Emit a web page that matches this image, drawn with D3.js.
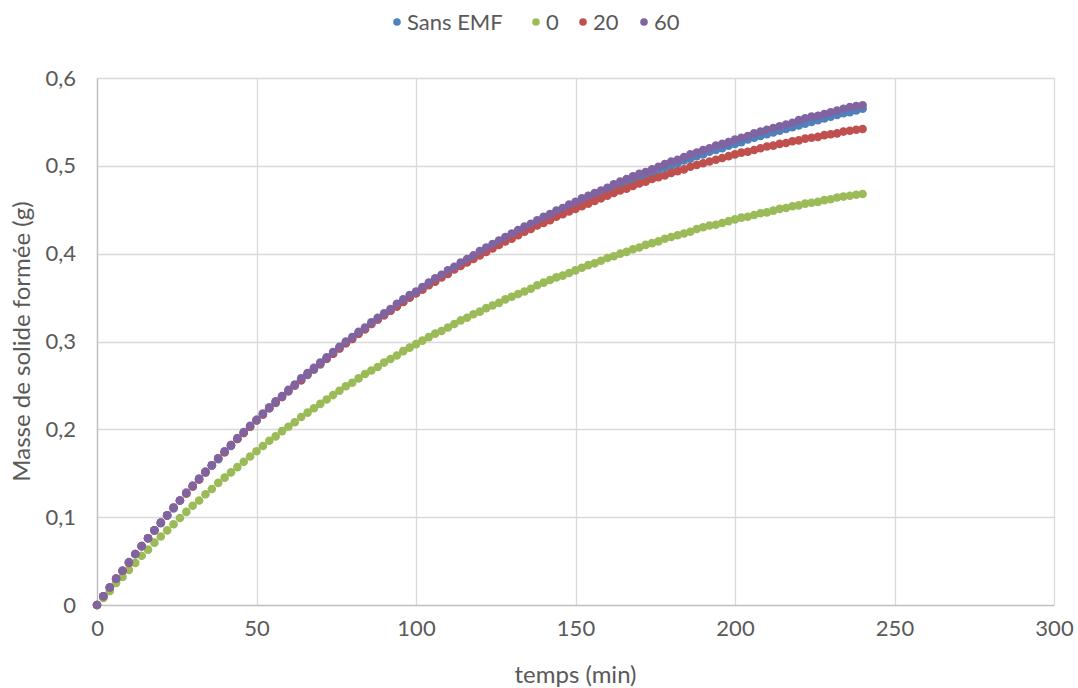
<!DOCTYPE html>
<html><head><meta charset="utf-8">
<script src="https://cdn.jsdelivr.net/npm/d3@7"></script>
<style>
html,body{margin:0;padding:0;background:#fff;}
svg{display:block;font-family:Lato,"Open Sans",sans-serif;}
</style></head>
<body><svg id="chart" width="1078" height="688"></svg>
<script>
const seriesNames = ["Sans EMF", "0", "20", "60"];
const seriesColors = ["#4F81BD", "#9BBB59", "#C0504D", "#8064A2"];
const timeStep = 2; // minutes between samples, t = 0..240
const xTicks = [0, 50, 100, 150, 200, 250, 300];
const yTicks = [0, 0.1, 0.2, 0.3, 0.4, 0.5, 0.6];

const sansEMF = [0.000,0.010,0.020,0.029,0.039,0.048,0.058,0.067,0.076,0.085,0.093,0.102,0.110,0.119,0.127,0.135,0.143,0.151,0.159,0.166,
0.174,0.181,0.189,0.196,0.203,0.210,0.217,0.224,0.230,0.237,0.243,0.250,0.256,0.262,0.268,0.274,0.280,0.286,0.292,0.298,
0.303,0.309,0.314,0.320,0.325,0.330,0.335,0.340,0.345,0.350,0.355,0.360,0.365,0.369,0.374,0.378,0.383,0.387,0.391,0.396,
0.400,0.404,0.408,0.412,0.416,0.420,0.424,0.427,0.431,0.435,0.438,0.442,0.446,0.449,0.452,0.456,0.459,0.462,0.465,0.469,
0.472,0.475,0.478,0.481,0.484,0.487,0.489,0.492,0.495,0.498,0.500,0.503,0.506,0.508,0.511,0.513,0.516,0.518,0.520,0.523,
0.525,0.527,0.530,0.532,0.534,0.536,0.538,0.540,0.542,0.544,0.546,0.548,0.550,0.552,0.554,0.556,0.558,0.560,0.561,0.563,0.565];

const emf0 = [0.000,0.008,0.016,0.025,0.032,0.040,0.048,0.056,0.063,0.071,0.078,0.085,0.092,0.099,0.106,0.113,0.119,0.126,0.132,0.139,
0.145,0.151,0.157,0.163,0.169,0.175,0.181,0.187,0.192,0.198,0.203,0.208,0.214,0.219,0.224,0.229,0.234,0.239,0.244,0.249,
0.253,0.258,0.263,0.267,0.271,0.276,0.280,0.284,0.289,0.293,0.297,0.301,0.305,0.309,0.312,0.316,0.320,0.324,0.327,0.331,
0.334,0.338,0.341,0.344,0.348,0.351,0.354,0.357,0.360,0.364,0.367,0.370,0.373,0.375,0.378,0.381,0.384,0.387,0.389,0.392,
0.395,0.397,0.400,0.402,0.405,0.407,0.410,0.412,0.414,0.417,0.419,0.421,0.423,0.425,0.428,0.430,0.432,0.433,0.435,0.437,
0.439,0.441,0.442,0.444,0.446,0.447,0.449,0.451,0.452,0.454,0.455,0.457,0.458,0.459,0.461,0.462,0.464,0.465,0.466,0.467,0.468];

const emf20 = [0.000,0.010,0.020,0.030,0.039,0.048,0.058,0.067,0.076,0.085,0.094,0.102,0.111,0.119,0.127,0.135,0.143,0.151,0.159,0.167,
0.174,0.182,0.189,0.196,0.203,0.210,0.217,0.224,0.231,0.237,0.244,0.250,0.256,0.263,0.269,0.275,0.281,0.286,0.292,0.298,
0.303,0.309,0.314,0.320,0.325,0.330,0.335,0.340,0.345,0.350,0.355,0.359,0.364,0.368,0.373,0.377,0.382,0.386,0.390,0.394,
0.398,0.402,0.406,0.410,0.414,0.417,0.421,0.425,0.428,0.432,0.435,0.438,0.442,0.445,0.448,0.451,0.454,0.457,0.460,0.463,
0.466,0.469,0.472,0.474,0.477,0.480,0.482,0.485,0.487,0.489,0.492,0.494,0.496,0.499,0.501,0.503,0.505,0.507,0.509,0.511,
0.513,0.515,0.516,0.518,0.520,0.522,0.523,0.525,0.526,0.528,0.529,0.531,0.532,0.533,0.535,0.536,0.537,0.539,0.540,0.541,0.542];

const emf60 = [0.000,0.010,0.020,0.030,0.039,0.049,0.058,0.067,0.076,0.085,0.094,0.102,0.111,0.119,0.128,0.136,0.144,0.152,0.159,0.167,
0.175,0.182,0.190,0.197,0.204,0.211,0.218,0.225,0.232,0.238,0.245,0.251,0.258,0.264,0.270,0.276,0.282,0.288,0.294,0.300,
0.305,0.311,0.316,0.322,0.327,0.332,0.337,0.343,0.348,0.353,0.357,0.362,0.367,0.372,0.376,0.381,0.385,0.390,0.394,0.398,
0.403,0.407,0.411,0.415,0.419,0.423,0.427,0.431,0.434,0.438,0.442,0.445,0.449,0.452,0.456,0.459,0.463,0.466,0.469,0.472,
0.475,0.479,0.482,0.485,0.488,0.491,0.493,0.496,0.499,0.502,0.505,0.507,0.510,0.513,0.515,0.518,0.520,0.523,0.525,0.527,
0.530,0.532,0.534,0.537,0.539,0.541,0.543,0.545,0.547,0.549,0.552,0.554,0.556,0.557,0.559,0.561,0.563,0.565,0.567,0.568,0.569];

const seriesValues = [sansEMF, emf0, emf20, emf60];

const svg = d3.select("#chart");
const plotLeft = 97, plotRight = 1054, plotTop = 78, plotBottom = 605;
const x = d3.scaleLinear().domain([0, 300]).range([plotLeft, plotRight]);
const y = d3.scaleLinear().domain([0, 0.6]).range([plotBottom, plotTop]);
const fmt = v => v === 0 ? "0" : d3.format(".1f")(v).replace(".", ",");
const textColor = "#595959";

// gridlines
const grid = svg.append("g");
grid.selectAll("line.h").data(yTicks.filter(d => d > 0)).enter().append("line")
  .attr("x1", plotLeft).attr("x2", plotRight)
  .attr("y1", d => Math.round(y(d)) + 0.5).attr("y2", d => Math.round(y(d)) + 0.5)
  .attr("stroke", "#d9d9d9").attr("stroke-width", 1.3);
grid.selectAll("line.v").data(xTicks.filter(d => d > 0)).enter().append("line")
  .attr("y1", plotTop).attr("y2", plotBottom)
  .attr("x1", d => Math.round(x(d)) + 0.5).attr("x2", d => Math.round(x(d)) + 0.5)
  .attr("stroke", "#d9d9d9").attr("stroke-width", 1.3);

// axes
const xAxis = d3.axisBottom(x).tickValues(xTicks).tickSize(0).tickPadding(15).tickFormat(d => d);
const gx = svg.append("g").attr("transform", `translate(0,${plotBottom})`).call(xAxis);
const yAxis = d3.axisLeft(y).tickValues(yTicks).tickSize(0).tickPadding(21).tickFormat(fmt);
const gy = svg.append("g").attr("transform", `translate(${plotLeft},0)`).call(yAxis);
[gx, gy].forEach(g => {
  g.select(".domain").attr("stroke", "#bfbfbf").attr("stroke-width", 1.5);
  g.selectAll("text").attr("fill", textColor).style("font-size", "22px").style("font-family", "Lato, 'Open Sans', sans-serif");
});

// axis titles
svg.append("text").attr("x", (plotLeft + plotRight) / 2).attr("y", 683).attr("text-anchor", "middle")
  .attr("fill", textColor).style("font-size", "24px").text("temps (min)");
svg.append("text").attr("transform", `translate(30,${(plotTop + plotBottom) / 2}) rotate(-90)`).attr("text-anchor", "middle")
  .attr("fill", textColor).style("font-size", "24px").text("Masse de solide formée (g)");

// points
seriesValues.forEach((vals, i) => {
  svg.append("g").selectAll("circle").data(vals).enter().append("circle")
    .attr("cx", (d, k) => x(k * timeStep))
    .attr("cy", d => y(d))
    .attr("r", 4.3)
    .attr("fill", seriesColors[i]);
});

// legend
const legendX = [397, 536, 583, 644];
const lg = svg.append("g");
seriesNames.forEach((n, i) => {
  const item = lg.append("g").attr("transform", `translate(${legendX[i]},22)`);
  item.append("circle").attr("r", 3.8).attr("fill", seriesColors[i]);
  item.append("text").attr("x", 10).attr("y", 8).attr("fill", textColor).style("font-size", "22px").text(n);
});
</script>
</body></html>
